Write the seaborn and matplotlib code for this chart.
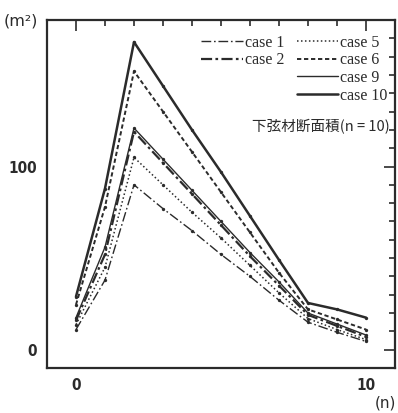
import numpy as np
import pandas as pd
import matplotlib
matplotlib.use("Agg")
import matplotlib.pyplot as plt
from matplotlib.lines import Line2D
from matplotlib.ticker import MultipleLocator, FixedLocator
import seaborn as sns

# member index n along the lower chord
n_values = [0, 1, 2, 3, 4, 5, 6, 7, 8, 9, 10]

# lower-chord cross-section area per case (m^2)
case1 = [11, 38, 90, 77, 65, 52, 40, 27, 15, 9.5, 4.5]
case2 = [16, 52, 119, 102, 85, 68, 51, 35, 19, 13, 7]
case5 = [13.7, 45, 105, 90, 75, 61, 46, 31, 17, 11, 5.5]
case6 = [24.6, 78, 152, 130, 108, 86, 64, 42, 22, 16.5, 11]
case9 = [17.5, 56, 121, 104, 87, 70, 53, 37, 20, 14, 8]
case10 = [29, 88, 168, 144, 120, 97, 73, 49, 25.5, 22, 17.5]

case_names = ["case 1", "case 2", "case 5", "case 6", "case 9", "case 10"]
series = [case1, case2, case5, case6, case9, case10]

df = pd.DataFrame({
    "n": np.tile(n_values, len(case_names)),
    "area": np.concatenate(series),
    "case": np.repeat(case_names, len(n_values)),
})

sns.set_theme(style="white")
plt.rcParams["font.family"] = ["DejaVu Sans"]

ink = "#2b2b2b"
styles = {
    "case 1": dict(dashes=(7, 2, 1.2, 2), lw=1.0),
    "case 2": dict(dashes=(5, 1.5, 1.2, 1.5), lw=1.6),
    "case 5": dict(dashes=(1, 1.6), lw=1.1),
    "case 6": dict(dashes=(2.2, 1.4), lw=1.4),
    "case 9": dict(dashes=(), lw=1.0),
    "case 10": dict(dashes=(), lw=1.8),
}

fig = plt.figure(figsize=(3.98, 4.13), dpi=100)
ax = fig.add_axes([47 / 398, 1 - 368 / 413, (395 - 47) / 398, (368 - 20) / 413])

for name in case_names:
    st = styles[name]
    sub = df[df["case"] == name]
    sns.lineplot(data=sub, x="n", y="area", ax=ax, color=ink, lw=st["lw"],
                 marker="o", markersize=2.4, markeredgewidth=0,
                 legend=False, estimator=None)
    line = ax.get_lines()[-1]
    if st["dashes"]:
        line.set_dashes(st["dashes"])

ax.set_xlim(-1, 11)
ax.set_ylim(-10, 180)
ax.set_xlabel("")
ax.set_ylabel("")

for sp in ax.spines.values():
    sp.set_visible(True)
    sp.set_color(ink)
    sp.set_linewidth(1.6)

ax.xaxis.set_major_locator(FixedLocator([0, 10]))
ax.xaxis.set_minor_locator(MultipleLocator(1))
ax.yaxis.set_major_locator(FixedLocator([0, 100]))
ax.yaxis.set_minor_locator(MultipleLocator(10))
ax.tick_params(which="both", direction="in", top=True, right=True,
               color=ink, width=1.2)
ax.tick_params(which="major", length=8, labelsize=11, pad=7)
ax.tick_params(which="minor", length=4)
for lab in ax.get_xticklabels() + ax.get_yticklabels():
    lab.set_fontweight("bold")
    lab.set_fontstretch("condensed")
    lab.set_color(ink)

fig.text(4 / 398, 1 - 21 / 413, "(m\u00b2)", fontsize=11.5, color=ink,
         va="center", ha="left")
fig.text(396 / 398, 2 / 413, "(n)", fontsize=11, color=ink,
         va="bottom", ha="right")

# legend: two columns, the left one holding only the first two cases
def handle(name):
    st = styles[name]
    h = Line2D([0], [0], color=ink, lw=st["lw"])
    if st["dashes"]:
        h.set_dashes(st["dashes"])
    return h

blank = Line2D([0], [0], color="none", lw=0)
handles = [handle("case 1"), handle("case 2"), blank, blank,
           handle("case 5"), handle("case 6"), handle("case 9"), handle("case 10")]
labels = ["case 1", "case 2", "", "", "case 5", "case 6", "case 9", "case 10"]
leg = ax.legend(handles, labels, ncol=2, loc="upper right",
                bbox_to_anchor=(1.005, 0.985), frameon=False,
                prop={"family": "Liberation Serif", "size": 11.5},
                handlelength=2.6, handletextpad=0.1, columnspacing=0.8,
                labelspacing=0.1, borderaxespad=0.2)
for t in leg.get_texts():
    t.set_color(ink)

ax.text(0.985, 0.693, "下弦材断面積(n = 10)", transform=ax.transAxes,
        ha="right", va="center", fontsize=10.5, color=ink,
        family=["Noto Sans CJK JP", "DejaVu Sans"])

fig.savefig("out.png", dpi=100, facecolor="white")
